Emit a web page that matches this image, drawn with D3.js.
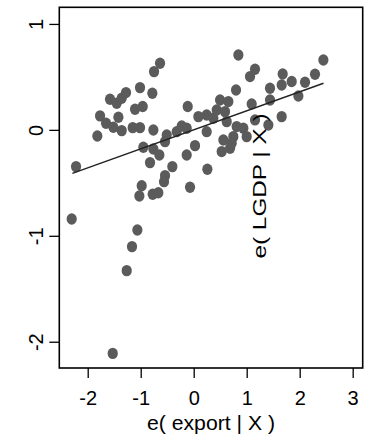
<!DOCTYPE html>
<html><head><meta charset="utf-8">
<script src="https://cdn.jsdelivr.net/npm/d3@7"></script>
<style>body{margin:0;background:#fff}svg{display:block}text{font-family:"Liberation Sans",Arial,sans-serif;fill:#000}</style>
</head><body><svg id="c" width="372" height="438"></svg>
<script>
const exportResid = [-2.302,-2.220,-1.818,-1.767,-1.654,-1.579,-1.516,-1.453,-1.421,-1.358,-1.358,-1.277,-1.151,-1.107,-1.013,-1.013,-0.962,-0.780,-0.748,-0.635,-0.761,-0.509,-0.541,-0.950,-0.761,-0.648,-0.824,-0.403,-0.541,-0.560,-0.981,-1.025,-0.774,-0.667,-1.063,-1.164,-1.264,-1.528,-0.132,-0.069,0.025,0.258,-0.113,-0.321,-0.226,-0.132,0.088,0.245,0.371,0.245,0.434,0.497,0.654,0.591,0.623,0.811,0.937,0.748,1.000,0.560,0.717,0.528,0.686,0.843,0.799,1.063,1.157,1.094,1.157,1.409,1.440,1.440,1.660,1.679,1.849,1.975,2.101,2.289,2.447,1.660];
const lgdpResid = [-0.842,-0.347,-0.058,0.132,0.062,0.289,0.024,0.251,0.119,0.298,-0.007,0.352,0.021,0.194,0.021,0.399,0.220,0.345,0.550,0.629,-0.001,-0.048,-0.111,-0.164,-0.180,-0.237,-0.309,-0.347,-0.432,-0.489,-0.527,-0.624,-0.608,-0.593,-0.945,-1.102,-1.329,-2.110,-0.237,-0.542,-0.149,-0.372,0.220,-0.017,0.037,0.015,0.125,0.141,0.109,-0.017,0.188,0.282,0.267,0.172,0.078,0.031,0.015,-0.064,-0.064,-0.095,-0.127,-0.205,-0.174,0.707,0.377,0.503,0.572,0.245,0.094,0.046,0.282,0.393,0.424,0.528,0.456,0.320,0.449,0.525,0.660,0.125];
const fitX = [-2.29, 2.45];
const fitY = [-0.41, 0.44];
const xTicks = [-2,-1,0,1,2,3];
const yTicks = [-2,-1,0,1];
const xTitle = "e( export | X )";
const yTitle = "e( LGDP | X )";

const svg = d3.select("#c");
const L=59.3,R=362.7,T=7.3,B=368;
const x = d3.scaleLinear().domain([-2.536,3.189]).range([L,R]);
const y = d3.scaleLinear().domain([-2.248,1.157]).range([B,T]);

// points
svg.append("g").selectAll("ellipse").data(exportResid.map((v,i)=>[v,lgdpResid[i]]))
  .join("ellipse").attr("cx",d=>x(d[0])).attr("cy",d=>y(d[1]))
  .attr("rx",5.1).attr("ry",5.7).attr("fill","#5b5b5b");

// fit line
svg.append("line").attr("x1",x(fitX[0])).attr("y1",y(fitY[0])).attr("x2",x(fitX[1])).attr("y2",y(fitY[1]))
  .attr("stroke","#222").attr("stroke-width",1.4);

// frame
svg.append("rect").attr("x",L).attr("y",T).attr("width",R-L).attr("height",B-T)
  .attr("fill","none").attr("stroke","#000").attr("stroke-width",1.6);

// x axis
const xa = d3.axisBottom(x).tickValues(xTicks).tickSize(10).tickFormat(d3.format("d"));
const gx = svg.append("g").attr("transform",`translate(0,${B})`).call(xa);
gx.select(".domain").remove();
gx.selectAll(".tick line").attr("stroke","#000").attr("stroke-width",1.3);
gx.selectAll(".tick text").attr("font-size",20).attr("font-family","Liberation Sans, Arial, sans-serif").attr("dy",0).attr("y",37)
  .text(d=>d<0?"-"+Math.abs(d):d);

// y axis
const ya = d3.axisLeft(y).tickValues(yTicks).tickSize(10).tickFormat(d3.format("d"));
const gy = svg.append("g").attr("transform",`translate(${L},0)`).call(ya);
gy.select(".domain").remove();
gy.selectAll(".tick line").attr("stroke","#000").attr("stroke-width",1.3);
gy.selectAll(".tick text").attr("font-size",20).attr("font-family","Liberation Sans, Arial, sans-serif")
  .attr("x",null).attr("dy",0).attr("text-anchor","middle")
  .attr("transform",`translate(${42.5-L},0) rotate(-90)`)
  .text(d=>d<0?"-"+Math.abs(d):d);

// titles
svg.append("text").attr("x",(L+R)/2).attr("y",430).attr("text-anchor","middle").attr("font-size",21)
  .attr("textLength",128).attr("lengthAdjust","spacingAndGlyphs").text(xTitle);
svg.append("text").attr("transform","translate(266,186) rotate(-90)").attr("text-anchor","middle").attr("font-size",18)
  .attr("textLength",145).attr("lengthAdjust","spacingAndGlyphs").text(yTitle);
</script></body></html>
